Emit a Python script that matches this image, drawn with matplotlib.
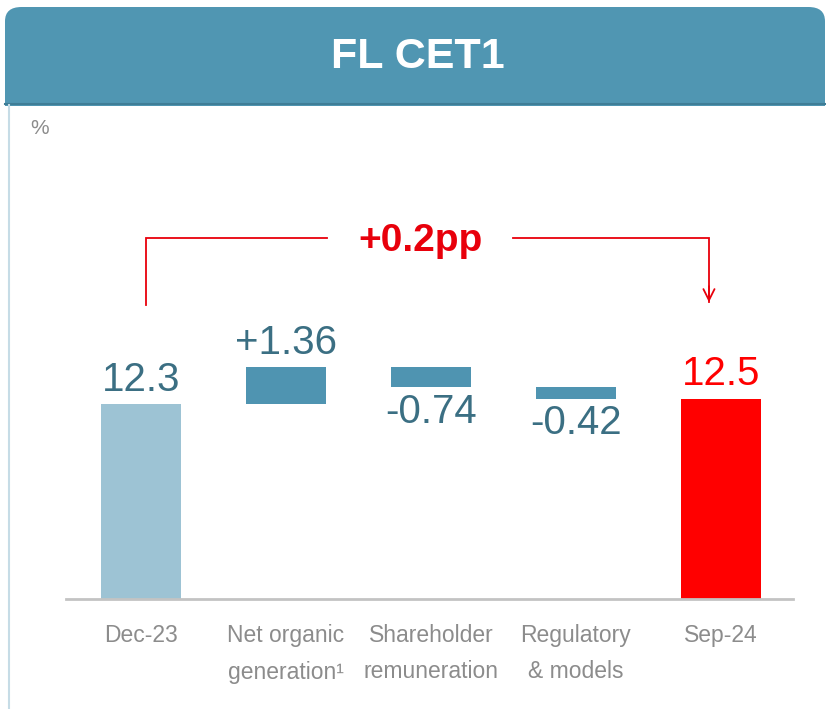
import matplotlib
matplotlib.use("Agg")
import matplotlib.pyplot as plt
from matplotlib.patches import FancyBboxPatch, Rectangle
from matplotlib.lines import Line2D

# Data
categories = ["Dec-23", "Net organic\ngeneration\u00b9", "Shareholder\nremuneration",
              "Regulatory\n& models", "Sep-24"]
start_value = 12.3
deltas = [1.36, -0.74, -0.42]
end_value = 12.5
value_labels = ["12.3", "+1.36", "-0.74", "-0.42", "12.5"]
change_label = "+0.2pp"

FONT = ["Liberation Sans", "DejaVu Sans"]
C_LIGHT = "#9dc3d4"
C_DELTA = "#4f94b1"
C_TEXT = "#3b6f83"
C_RED = "#ff0000"
C_GREY = "#8c8c8c"

W, H = 826, 709
fig = plt.figure(figsize=(W / 100, H / 100), dpi=100)

# header banner
hdr = FancyBboxPatch((5 / W, (H - 104) / H), 820 / W, 97 / H,
                     boxstyle="round,pad=0,rounding_size=0.02",
                     transform=fig.transFigure, fc="#5096b2", ec="none")
fig.patches.append(hdr)
fig.patches.append(Rectangle((5 / W, (H - 106) / H), 820 / W, 20 / H,
                             transform=fig.transFigure, fc="#5096b2", ec="none"))
fig.lines.append(Line2D([5 / W, 825 / W], [(H - 104) / H] * 2, transform=fig.transFigure,
                        color="#3f7d96", lw=1.5))
fig.lines.append(Line2D([9 / W, 9 / W], [0, (H - 105) / H], transform=fig.transFigure,
                        color="#c6dce6", lw=1.5))
fig.text(418 / W, 1 - 57 / H, "FL CET1", color="white", fontsize=31, fontweight="bold",
         ha="center", va="center", family=FONT)
fig.text(40 / W, 1 - 128 / H, "%", color=C_GREY, fontsize=15, ha="center", va="center",
         family=FONT)

# axes placed so the baseline sits at y=599 px
y0 = 5.08
scale = 27.0  # px per unit
ax_bottom_px, ax_top_px = 599, 150
ax = fig.add_axes([66 / W, (H - ax_bottom_px) / H, (793 - 66) / W,
                   (ax_bottom_px - ax_top_px) / H])
ax.set_xlim((66 - 141) / 145, (793 - 141) / 145)
ax.set_ylim(y0, y0 + (ax_bottom_px - ax_top_px) / scale)

bw = 80 / 145
# waterfall
bottoms = [y0]
heights = [start_value - y0]
colors = [C_LIGHT]
level = start_value
for d in deltas:
    bottoms.append(min(level, level + d))
    heights.append(abs(d))
    colors.append(C_DELTA)
    level += d
bottoms.append(y0)
heights.append(end_value - y0)
colors.append(C_RED)

x = list(range(len(categories)))
ax.bar(x, heights, bottom=bottoms, width=bw, color=colors, linewidth=0)

# value labels
pad = 0.2
for i, lab in enumerate(value_labels):
    top = bottoms[i] + heights[i]
    col = C_RED if i == len(x) - 1 else C_TEXT
    if 0 < i < len(x) - 1 and deltas[i - 1] < 0:
        ax.text(i, bottoms[i] - pad, lab, ha="center", va="top", fontsize=29,
                color=col, family=FONT)
    else:
        ax.text(i, top + pad, lab, ha="center", va="bottom", fontsize=29,
                color=col, family=FONT)

# bracket arrow
yb = y0 + (599 - 238) / scale
ya = y0 + (599 - 305) / scale
xl, xr = 0.035, 3.917
ax.plot([xl, xl, (327 - 141) / 145], [ya, yb, yb], color="#e8000b", lw=1.3,
        clip_on=False, solid_joinstyle="miter")
ax.plot([(513 - 141) / 145, xr, xr], [yb, yb, ya + 0.1], color="#e8000b", lw=1.3,
        clip_on=False, solid_joinstyle="miter")
ax.annotate("", xy=(xr, ya), xytext=(xr, ya + 0.8),
            arrowprops=dict(arrowstyle="->,head_length=0.8,head_width=0.4",
                            color="#e8000b", lw=1.3))
ax.text((421 - 141) / 145, yb - 0.1, change_label, ha="center", va="center", fontsize=28,
        fontweight="bold", color="#e8000b", family=FONT)

# axis styling
for s in ["top", "right", "left"]:
    ax.spines[s].set_visible(False)
ax.spines["bottom"].set_color("#c3c3c3")
ax.spines["bottom"].set_linewidth(2)
ax.set_yticks([])
ax.set_xticks(x)
ax.set_xticklabels(categories, fontsize=16.5, color=C_GREY, family=FONT, linespacing=1.75)
ax.tick_params(axis="x", length=0, pad=18)

fig.savefig("out.png", dpi=100)
